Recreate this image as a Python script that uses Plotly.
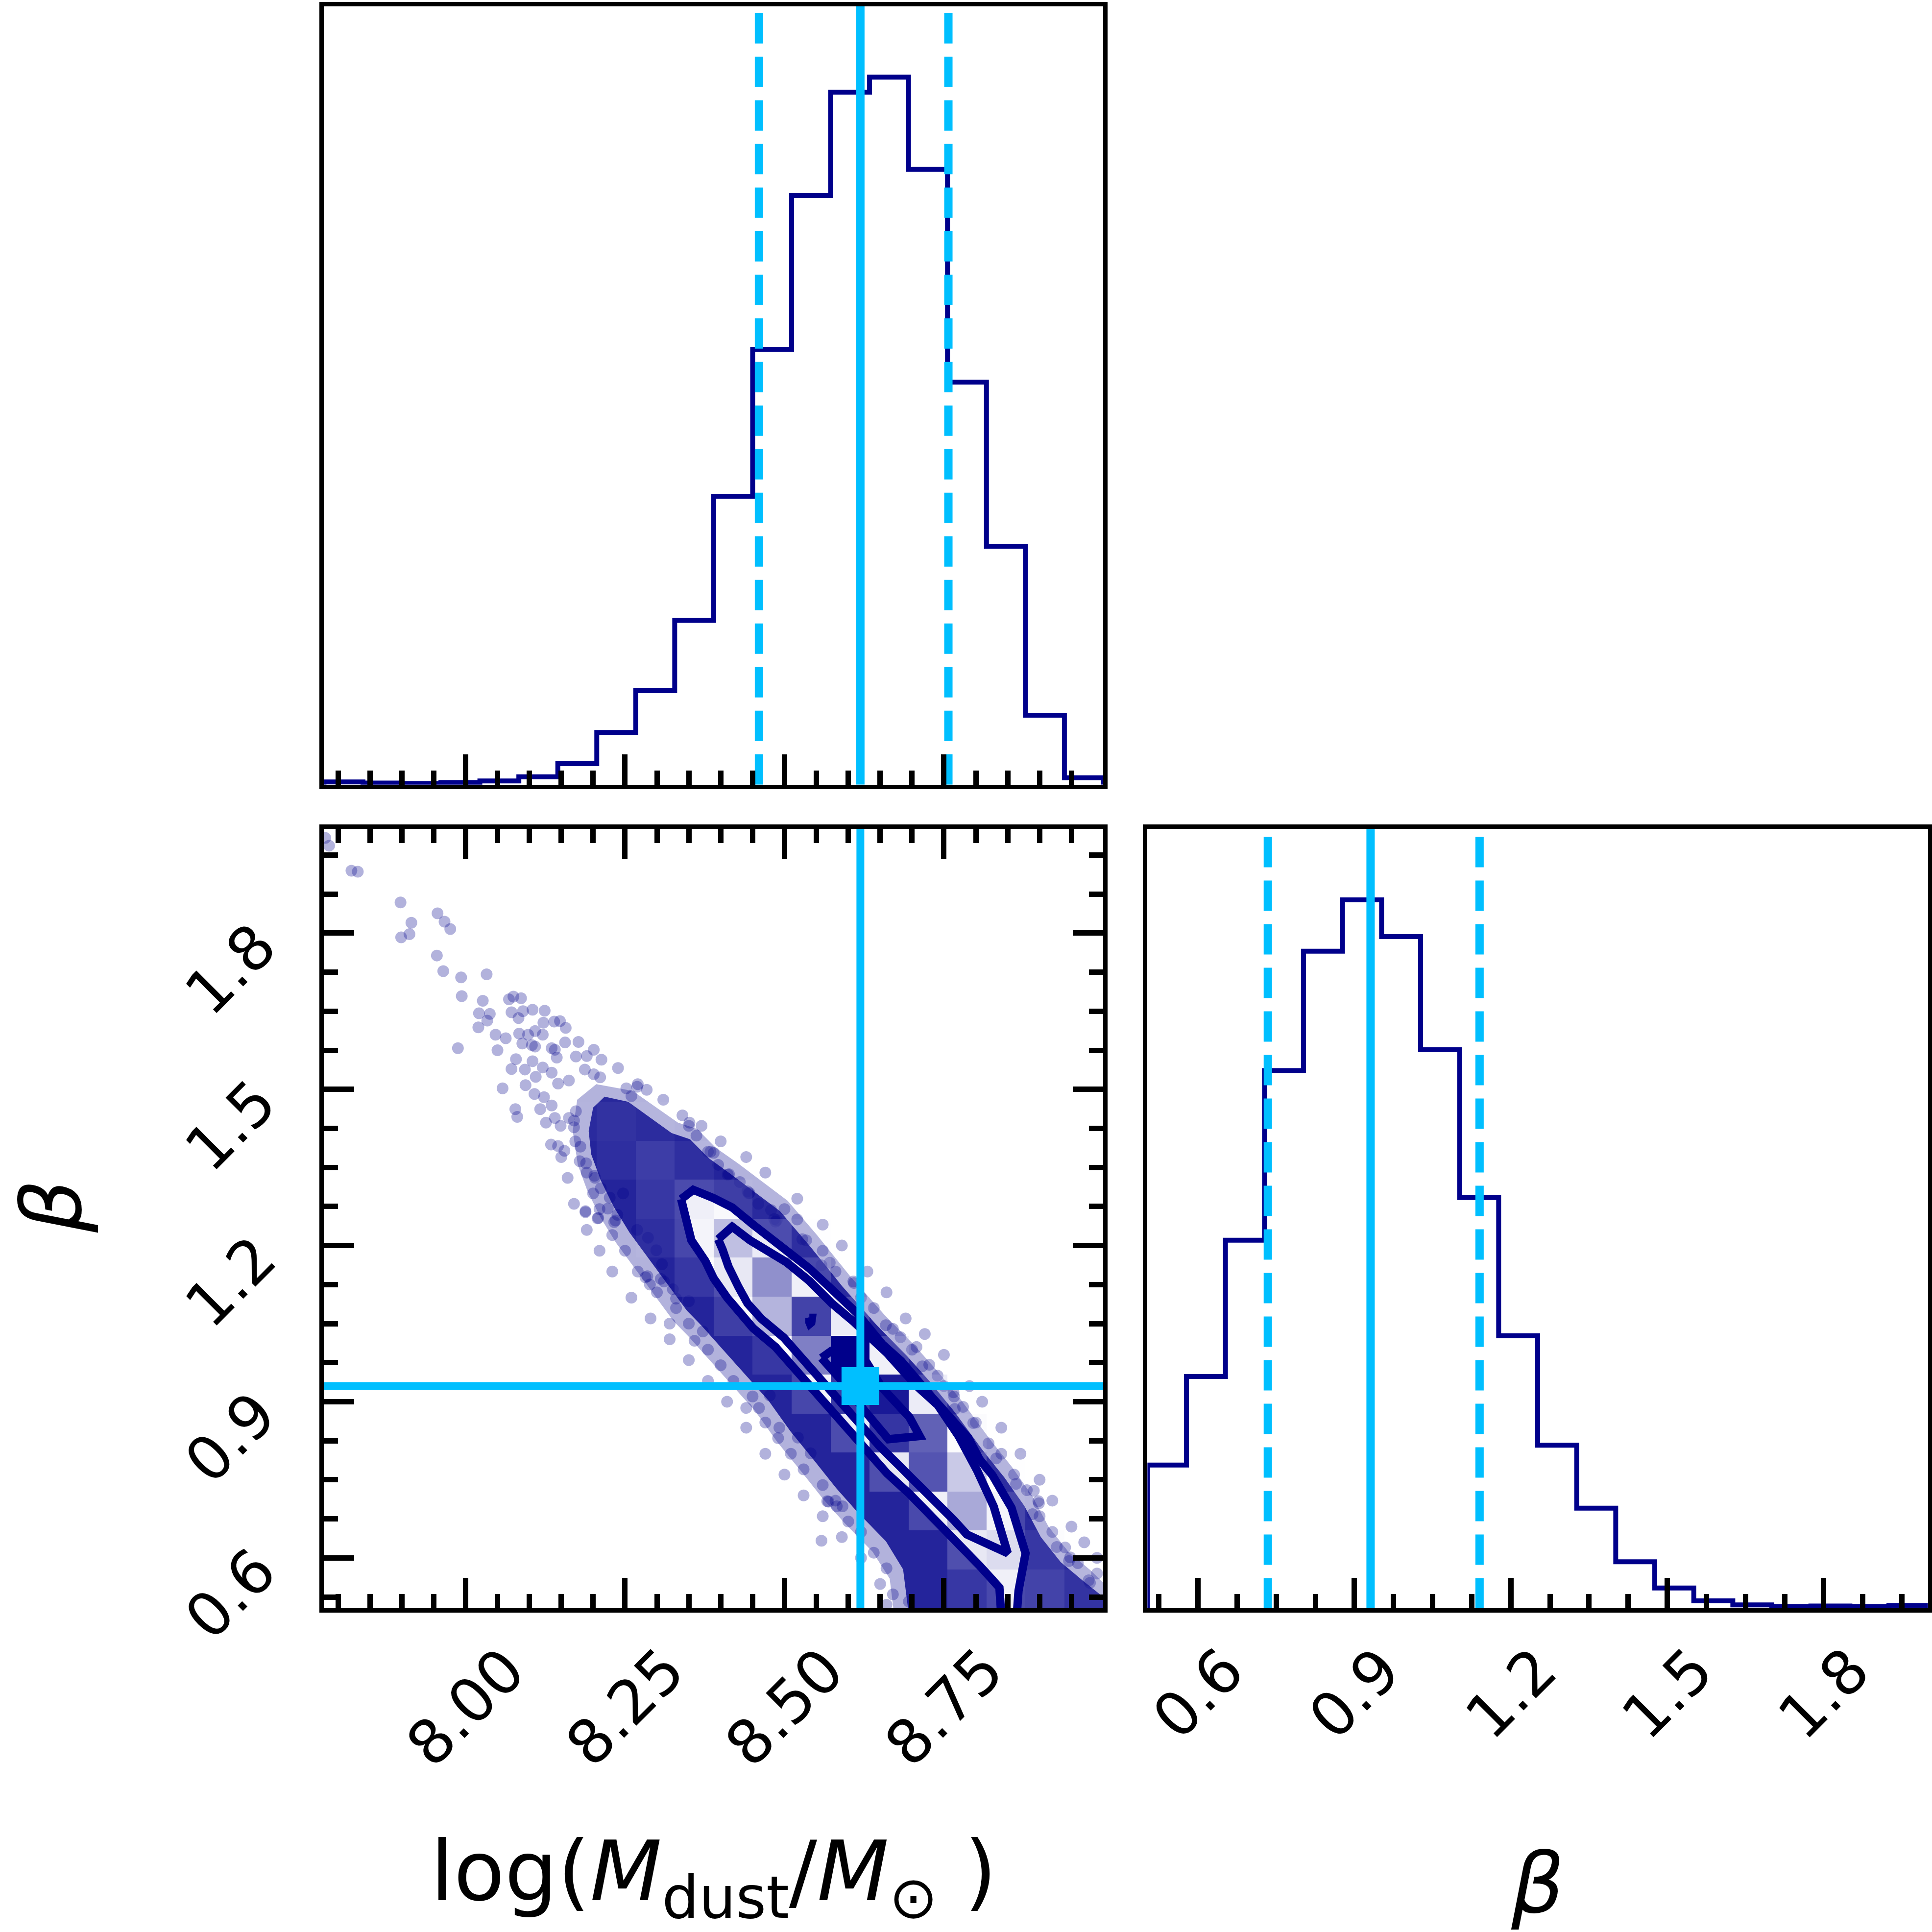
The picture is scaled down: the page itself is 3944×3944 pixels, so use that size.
import numpy as np
import plotly.graph_objects as go

# sampled ranges of the two parameters
mdust_range = [7.778, 9.0]
beta_range = [0.503, 2.0]

# 1D marginal histograms, 20 bins over the ranges above
mdust_counts = [5, 3, 2, 4, 7, 15, 40, 100, 180, 315, 553, 835, 1130, 1328, 1357, 1180, 772, 457, 133, 13]
beta_counts = [246, 398, 632, 923, 1128, 1216, 1153, 959, 705, 468, 280, 172, 80, 35, 13, 6, 3, 4, 3, 5]

# 16th, 50th, 84th percentiles and the truth values
mdust_quantiles = [8.460, 8.619, 8.757]
beta_quantiles = [0.734, 0.931, 1.140]
truth_mdust = 8.619
truth_beta = 0.930

mdust_ticks = [8.00, 8.25, 8.50, 8.75]
beta_ticks = [0.6, 0.9, 1.2, 1.5, 1.8]

# 2D histogram in % of the peak bin (rows: beta bins low->high, cols: Mdust bins)
density_2d = [
    [0, 0, 0, 0, 0, 0, 0, 0, 0, 0, 0, 0, 0, 0, 0, 0, 10, 24, 18, 8],
    [0, 0, 0, 0, 0, 0, 0, 0, 0, 0, 0, 0, 0, 0, 0, 0, 30, 37, 10, 2],
    [0, 0, 0, 0, 0, 0, 0, 0, 0, 0, 0, 0, 0, 0, 0, 24, 58, 21, 3, 0],
    [0, 0, 0, 0, 0, 0, 0, 0, 0, 0, 0, 0, 0, 0, 30, 82, 46, 5, 0, 0],
    [0, 0, 0, 0, 0, 0, 0, 0, 0, 0, 0, 0, 0, 27, 89, 79, 12, 0, 0, 0],
    [0, 0, 0, 0, 0, 0, 0, 0, 0, 0, 0, 0, 21, 88, 95, 27, 2, 0, 0, 0],
    [0, 0, 0, 0, 0, 0, 0, 0, 0, 0, 0, 10, 71, 100, 24, 2, 0, 0, 0, 0],
    [0, 0, 0, 0, 0, 0, 0, 0, 0, 0, 15, 54, 86, 27, 0, 0, 0, 0, 0, 0],
    [0, 0, 0, 0, 0, 0, 0, 0, 0, 10, 30, 66, 24, 3, 0, 0, 0, 0, 0, 0],
    [0, 0, 0, 0, 0, 0, 0, 0, 6, 21, 50, 27, 5, 0, 0, 0, 0, 0, 0, 0],
    [0, 0, 0, 0, 0, 0, 0, 0, 10, 25, 15, 3, 0, 0, 0, 0, 0, 0, 0, 0],
    [0, 0, 0, 0, 0, 0, 0, 5, 14, 6, 0, 0, 0, 0, 0, 0, 0, 0, 0, 0],
    [0, 0, 0, 0, 0, 0, 3, 7, 4, 0, 0, 0, 0, 0, 0, 0, 0, 0, 0, 0],
    [0, 0, 0, 0, 0, 0, 2, 2, 0, 0, 0, 0, 0, 0, 0, 0, 0, 0, 0, 0],
    [0] * 20,
    [0] * 20,
    [0] * 20,
    [0] * 20,
    [0] * 20,
    [0] * 20,
]

# contour levels (outer -> inner), traced as paths
contour_outer = [
    (8.338, 1.289), (8.357, 1.307), (8.389, 1.291), (8.418, 1.273), (8.451, 1.240),
    (8.477, 1.216), (8.539, 1.156), (8.574, 1.116), (8.613, 1.071), (8.653, 1.011),
    (8.683, 0.978), (8.731, 0.909), (8.762, 0.867), (8.788, 0.831), (8.806, 0.789),
    (8.826, 0.759), (8.856, 0.696), (8.878, 0.609), (8.867, 0.537), (8.863, 0.470),
    (8.841, 0.470), (8.837, 0.543), (8.806, 0.585), (8.773, 0.627), (8.753, 0.654),
    (8.718, 0.696), (8.696, 0.723), (8.661, 0.762), (8.635, 0.798), (8.609, 0.834),
    (8.574, 0.882), (8.543, 0.924), (8.517, 0.960), (8.486, 1.005), (8.451, 1.041),
    (8.429, 1.071), (8.410, 1.100), (8.389, 1.137), (8.376, 1.170), (8.354, 1.210),
    (8.345, 1.260), (8.338, 1.289),
]
contour_mid = [
    (8.396, 1.212), (8.418, 1.236), (8.446, 1.210), (8.477, 1.189), (8.503, 1.168),
    (8.539, 1.132), (8.574, 1.089), (8.609, 1.053), (8.631, 1.029), (8.661, 0.993),
    (8.683, 0.963), (8.710, 0.927), (8.740, 0.894), (8.773, 0.834), (8.802, 0.768),
    (8.828, 0.699), (8.850, 0.609), (8.786, 0.645), (8.766, 0.672), (8.731, 0.714),
    (8.709, 0.741), (8.674, 0.780), (8.648, 0.816), (8.622, 0.852), (8.587, 0.900),
    (8.556, 0.942), (8.530, 0.978), (8.499, 1.023), (8.464, 1.059), (8.442, 1.089),
    (8.428, 1.120), (8.412, 1.160), (8.403, 1.192), (8.396, 1.212),
]
contour_inner = [
    (8.558, 0.984), (8.574, 0.998), (8.600, 1.003), (8.626, 0.981), (8.653, 0.927),
    (8.696, 0.870), (8.712, 0.834), (8.663, 0.828), (8.626, 0.882), (8.591, 0.939),
    (8.558, 0.984),
]
contour_dot = [
    (8.539, 1.061), (8.543, 1.061), (8.542, 1.052), (8.540, 1.050), (8.539, 1.053),
    (8.539, 1.061),
]

# outline of the saturated part of the sample cloud, and its softer halo
cloud_core = [
    (8.200, 1.465), (8.218, 1.486), (8.255, 1.476), (8.289, 1.446), (8.323, 1.416),
    (8.352, 1.404), (8.381, 1.368), (8.415, 1.338), (8.454, 1.302), (8.493, 1.266),
    (8.539, 1.200), (8.591, 1.121), (8.644, 1.048), (8.692, 0.988), (8.727, 0.940),
    (8.767, 0.880), (8.810, 0.808), (8.845, 0.754), (8.876, 0.700), (8.902, 0.640),
    (8.933, 0.592), (8.968, 0.556), (9.010, 0.515), (9.010, 0.490), (8.695, 0.490),
    (8.686, 0.578), (8.659, 0.632), (8.616, 0.686), (8.581, 0.734), (8.546, 0.788),
    (8.510, 0.842), (8.475, 0.902), (8.440, 0.950), (8.405, 0.998), (8.370, 1.046),
    (8.347, 1.075), (8.317, 1.125), (8.287, 1.175), (8.257, 1.225), (8.232, 1.275),
    (8.212, 1.325), (8.197, 1.375), (8.193, 1.420),
]
cloud_halo = [
    (8.175, 1.480), (8.205, 1.510), (8.262, 1.497), (8.298, 1.466), (8.333, 1.436),
    (8.363, 1.424), (8.392, 1.388), (8.427, 1.358), (8.466, 1.322), (8.505, 1.286),
    (8.551, 1.220), (8.603, 1.141), (8.656, 1.068), (8.704, 1.008), (8.739, 0.960),
    (8.779, 0.900), (8.822, 0.828), (8.857, 0.774), (8.888, 0.720), (8.914, 0.660),
    (8.945, 0.612), (8.980, 0.576), (9.010, 0.540), (9.010, 0.490), (8.672, 0.490),
    (8.665, 0.560), (8.638, 0.612), (8.595, 0.666), (8.560, 0.714), (8.525, 0.768),
    (8.489, 0.822), (8.454, 0.882), (8.419, 0.930), (8.384, 0.978), (8.349, 1.026),
    (8.326, 1.055), (8.296, 1.105), (8.266, 1.155), (8.236, 1.205), (8.211, 1.255),
    (8.191, 1.305), (8.176, 1.355), (8.168, 1.420),
]

# individual samples outside the saturated cloud
samples = [
    (7.780, 1.983), (7.786, 1.968), (7.821, 1.920), (7.831, 1.918), (7.898, 1.859),
    (7.899, 1.792), (7.912, 1.798), (7.915, 1.820), (7.956, 1.838), (7.967, 1.822),
    (7.976, 1.808), (7.955, 1.757), (7.965, 1.727), (7.993, 1.715), (7.994, 1.679),
    (8.033, 1.721), (8.027, 1.670), (8.021, 1.646), (8.020, 1.619), (8.034, 1.632),
    (8.038, 1.645), (8.047, 1.605), (8.050, 1.575), (7.988, 1.579), (8.063, 1.598),
    (8.068, 1.673), (8.075, 1.678), (8.087, 1.675), (8.083, 1.637), (8.072, 1.648),
    (8.090, 1.650), (8.105, 1.653), (8.124, 1.651), (8.122, 1.628), (8.139, 1.630),
    (8.148, 1.631), (8.157, 1.618), (8.098, 1.605), (8.109, 1.612), (8.121, 1.605),
    (8.084, 1.607), (8.089, 1.588), (8.104, 1.585), (8.109, 1.582), (8.135, 1.579),
    (8.140, 1.576), (8.156, 1.590), (8.177, 1.591), (8.201, 1.576), (8.173, 1.563),
    (8.190, 1.564), (8.213, 1.557), (8.239, 1.541), (8.105, 1.554), (8.079, 1.558),
    (8.072, 1.539), (8.093, 1.538), (8.110, 1.524), (8.121, 1.542), (8.135, 1.532),
    (8.143, 1.561), (8.058, 1.502), (8.094, 1.508), (8.108, 1.491), (8.123, 1.485),
    (8.135, 1.469), (8.078, 1.462), (8.081, 1.447), (8.117, 1.462), (8.126, 1.436),
    (8.140, 1.445), (8.149, 1.430), (8.162, 1.445), (8.173, 1.458), (8.170, 1.427),
    (8.145, 1.511), (8.162, 1.517), (8.187, 1.538), (8.201, 1.529), (8.211, 1.523),
    (8.134, 1.394), (8.145, 1.391), (8.155, 1.382), (8.172, 1.400), (8.179, 1.362),
    (8.189, 1.358), (8.202, 1.334), (8.203, 1.330), (8.212, 1.310), (8.226, 1.292),
    (8.188, 1.264), (8.207, 1.252), (8.223, 1.271), (8.238, 1.259), (8.233, 1.245),
    (8.247, 1.300), (8.284, 1.499), (8.269, 1.505), (8.252, 1.502), (8.260, 1.487),
    (8.282, 1.139), (8.289, 1.125), (8.311, 1.131), (8.325, 1.116), (8.330, 1.098),
    (8.350, 1.093), (8.350, 1.430), (8.362, 1.411), (8.384, 1.380), (8.396, 1.355),
    (8.413, 1.337), (8.430, 1.322), (8.445, 1.301), (8.459, 1.280), (8.479, 1.268),
    (8.488, 1.249), (8.528, 1.212), (8.269, 1.230), (8.286, 1.215), (8.299, 1.191),
    (8.308, 1.164), (8.359, 1.017), (8.372, 1.035), (8.440, 0.888), (8.460, 0.888),
    (8.492, 0.850), (8.558, 0.633), (8.569, 0.708), (8.582, 0.699), (8.591, 0.699),
    (8.477, 0.912), (8.521, 0.831), (8.541, 0.801), (8.609, 1.128), (8.659, 1.047),
    (8.682, 1.024), (8.707, 1.005), (8.727, 0.971), (8.766, 0.910), (8.767, 0.886),
    (8.796, 0.859), (8.832, 0.791), (8.863, 0.742), (8.891, 0.729), (8.899, 0.705),
    (8.889, 0.684), (8.927, 0.621), (8.946, 0.594), (8.979, 0.552), (8.558, 1.162),
    (8.534, 1.210), (8.486, 1.246), (8.444, 1.300), (8.389, 1.378), (8.411, 1.336),
    (8.695, 0.516), (8.567, 0.709), (8.320, 1.050), (8.285, 1.141), (8.306, 1.136),
    (8.235, 1.248), (8.188, 1.266), (8.208, 1.253), (8.977, 0.557), (8.948, 0.601),
    (8.898, 0.709), (8.765, 0.918), (8.716, 0.968), (8.608, 1.131), (8.571, 1.167),
    (8.484, 1.251), (8.442, 1.304), (8.380, 1.380), (8.351, 1.436),
    (8.500, 1.270), (8.520, 1.250), (8.560, 1.190), (8.580, 1.150), (8.620, 1.100),
    (8.640, 1.080), (8.670, 1.040), (8.700, 1.000), (8.740, 0.950), (8.750, 0.930),
    (8.780, 0.890), (8.800, 0.860), (8.820, 0.820), (8.840, 0.800), (8.860, 0.760),
    (8.880, 0.730), (8.900, 0.680), (8.920, 0.650), (8.940, 0.620), (8.960, 0.590),
    (8.990, 0.570), (8.670, 0.530), (8.660, 0.580), (8.640, 0.610), (8.620, 0.650),
    (8.600, 0.670), (8.580, 0.710), (8.560, 0.740), (8.530, 0.770), (8.510, 0.800),
    (8.490, 0.830), (8.470, 0.860), (8.450, 0.910), (8.420, 0.940), (8.400, 0.970),
    (8.380, 1.000), (8.350, 1.050), (8.330, 1.080), (8.300, 1.110), (8.270, 1.150),
    (8.250, 1.190), (8.230, 1.220), (8.210, 1.270), (8.200, 1.300), (8.190, 1.340),
    (8.180, 1.390), (8.170, 1.440),
    (8.270, 1.510), (8.310, 1.480), (8.340, 1.450), (8.370, 1.430), (8.400, 1.400),
    (8.440, 1.370), (8.470, 1.340), (8.520, 1.290), (8.560, 1.240), (8.590, 1.200),
    (8.630, 1.150), (8.660, 1.110), (8.690, 1.060), (8.720, 1.030), (8.750, 0.990),
    (8.790, 0.930), (8.810, 0.900), (8.840, 0.850), (8.870, 0.800), (8.900, 0.750),
    (8.920, 0.710), (8.950, 0.660), (8.970, 0.630), (8.990, 0.600),
    (8.660, 0.510), (8.650, 0.550), (8.620, 0.600), (8.590, 0.640), (8.560, 0.680),
    (8.530, 0.720), (8.500, 0.760), (8.470, 0.800), (8.440, 0.850), (8.410, 0.900),
    (8.380, 0.940), (8.350, 0.980), (8.320, 1.020), (8.290, 1.060), (8.260, 1.100),
    (8.230, 1.150), (8.210, 1.190), (8.190, 1.230), (8.170, 1.280), (8.160, 1.330),
    (8.150, 1.370),
]

NAVY = "#00008b"
CYAN = "#00bfff"
FONT = "DejaVu Sans"

# panel domains (paper fractions)
x_left = [0.1677, 0.5711]
x_right = [0.5939, 0.9979]
y_top = [0.5939, 0.9967]
y_bottom = [0.1675, 0.5709]


def step_xy(counts, rng):
    edges = np.linspace(rng[0], rng[1], len(counts) + 1)
    xs = np.repeat(edges, 2)
    ys = np.concatenate([[0], np.repeat(counts, 2), [0]])
    return xs, ys


fig = go.Figure()

# --- top-left: Mdust marginal
mdust_top = 1.1 * max(mdust_counts)
hx, hy = step_xy(mdust_counts, mdust_range)
fig.add_trace(go.Scatter(x=hx, y=hy, mode="lines", line=dict(color=NAVY, width=10),
                         xaxis="x", yaxis="y", showlegend=False))
for q, d in zip(mdust_quantiles, ["62px,27px", "solid", "62px,27px"]):
    fig.add_trace(go.Scatter(x=[q, q], y=[0, mdust_top], mode="lines",
                             line=dict(color=CYAN, width=17, dash=d),
                             xaxis="x", yaxis="y", showlegend=False))

# --- bottom-right: beta marginal
beta_top = 1.1 * max(beta_counts)
hx, hy = step_xy(beta_counts, beta_range)
fig.add_trace(go.Scatter(x=hx, y=hy, mode="lines", line=dict(color=NAVY, width=10),
                         xaxis="x2", yaxis="y2", showlegend=False))
for q, d in zip(beta_quantiles, ["62px,27px", "solid", "62px,27px"]):
    fig.add_trace(go.Scatter(x=[q, q], y=[0, beta_top], mode="lines",
                             line=dict(color=CYAN, width=17, dash=d),
                             xaxis="x2", yaxis="y2", showlegend=False))

# --- bottom-left: samples, then white inside the outer contour
for outline, alpha in [(cloud_halo, 0.3), (cloud_core, 0.8)]:
    cx, cy = zip(*outline)
    fig.add_trace(go.Scatter(x=cx, y=cy, mode="lines", fill="toself",
                             fillcolor=f"rgba(0,0,139,{alpha})", line=dict(width=0),
                             xaxis="x3", yaxis="y3", showlegend=False))
sx, sy = zip(*samples)
fig.add_trace(go.Scatter(x=sx, y=sy, mode="markers",
                         marker=dict(size=24, color="rgba(0,0,139,0.3)", line=dict(width=0)),
                         xaxis="x3", yaxis="y3", showlegend=False))
ox, oy = zip(*contour_outer)
fig.add_trace(go.Scatter(x=ox, y=oy, mode="lines", fill="toself", fillcolor="white",
                         line=dict(width=0), xaxis="x3", yaxis="y3", showlegend=False))

# overlay: density squares, contour lines, truths
nb = len(density_2d)
mx_edges = np.linspace(mdust_range[0], mdust_range[1], nb + 1)
by_edges = np.linspace(beta_range[0], beta_range[1], nb + 1)
fig.add_trace(go.Heatmap(
    x=(mx_edges[:-1] + mx_edges[1:]) / 2, y=(by_edges[:-1] + by_edges[1:]) / 2,
    z=density_2d, zmin=0, zmax=100, showscale=False, hoverinfo="skip",
    colorscale=[[0, "rgba(255,255,255,0)"], [1, "rgba(0,0,139,1)"]],
    xaxis="x4", yaxis="y4"))
for path in [contour_outer, contour_mid, contour_inner, contour_dot]:
    px_, py_ = zip(*path)
    fig.add_trace(go.Scatter(x=px_, y=py_, mode="lines",
                             line=dict(color=NAVY, width=17),
                             xaxis="x4", yaxis="y4", showlegend=False))
fig.add_trace(go.Scatter(x=[truth_mdust, truth_mdust], y=[beta_range[0] - 0.1, beta_range[1] + 0.1],
                         mode="lines", line=dict(color=CYAN, width=16),
                         xaxis="x4", yaxis="y4", showlegend=False))
fig.add_trace(go.Scatter(x=[mdust_range[0] - 0.1, mdust_range[1] + 0.1], y=[truth_beta, truth_beta],
                         mode="lines", line=dict(color=CYAN, width=16),
                         xaxis="x4", yaxis="y4", showlegend=False))
fig.add_trace(go.Scatter(x=[truth_mdust], y=[truth_beta], mode="markers",
                         marker=dict(symbol="square", size=77, color=CYAN, line=dict(width=0)),
                         xaxis="x4", yaxis="y4", showlegend=False))

frame = dict(showline=True, linewidth=9, linecolor="black", showgrid=False,
             zeroline=False, showticklabels=False)
major = dict(ticks="inside", ticklen=62, tickwidth=11, tickcolor="black")


def minor(step, start):
    return dict(ticks="inside", ticklen=29, tickwidth=11, tickcolor="black",
                dtick=step, tick0=start, showgrid=False)


fig.update_layout(
    width=3944, height=3944,
    margin=dict(l=0, r=0, t=0, b=0),
    paper_bgcolor="white", plot_bgcolor="white",
    showlegend=False,
    xaxis=dict(domain=x_left, anchor="y", range=mdust_range, mirror=True,
               dtick=0.25, tick0=8.0, minor=minor(0.05, 8.0), **frame, **major),
    yaxis=dict(domain=y_top, anchor="x", range=[0, mdust_top], mirror=True,
               ticks="", **frame),
    xaxis2=dict(domain=x_right, anchor="y2", range=beta_range, mirror=True,
                dtick=0.3, tick0=0.6, minor=minor(0.075, 0.6), **frame, **major),
    yaxis2=dict(domain=y_bottom, anchor="x2", range=[0, beta_top], mirror=True,
                ticks="", **frame),
    xaxis3=dict(domain=x_left, anchor="y3", range=mdust_range, mirror="allticks",
                dtick=0.25, tick0=8.0, minor=minor(0.05, 8.0), **frame, **major),
    yaxis3=dict(domain=y_bottom, anchor="x3", range=beta_range, mirror="allticks",
                dtick=0.3, tick0=0.6, minor=minor(0.075, 0.6), **frame, **major),
    xaxis4=dict(overlaying="x3", anchor="y4", range=mdust_range, visible=False),
    yaxis4=dict(overlaying="y3", anchor="x4", range=beta_range, visible=False),
)

tick_font = dict(family=FONT, size=124, color="black")
annotations = []
for v in mdust_ticks:
    annotations.append(dict(x=v, xref="x3", y=y_bottom[0], yref="paper", text=f"{v:.2f}",
                            textangle=-45, xanchor="center", yanchor="top", yshift=-50,
                            showarrow=False, font=tick_font))
for v in beta_ticks:
    annotations.append(dict(x=v, xref="x2", y=y_bottom[0], yref="paper", text=f"{v:.1f}",
                            textangle=-45, xanchor="center", yanchor="top", yshift=-50,
                            showarrow=False, font=tick_font))
    annotations.append(dict(x=x_left[0], xref="paper", y=v, yref="y3", text=f"{v:.1f}",
                            textangle=-45, xanchor="right", yanchor="middle",
                            xshift=-68, yshift=-74, showarrow=False, font=tick_font))

title_font = dict(family=FONT, size=170, color="black")
annotations.append(dict(x=sum(x_left) / 2, xref="paper", y=0.0570, yref="paper",
                        text="log(<i>M</i><sub>dust</sub>/<i>M</i><sub>⊙</sub> )",
                        xanchor="center", yanchor="top", showarrow=False, font=title_font))
annotations.append(dict(x=sum(x_right) / 2, xref="paper", y=0.0507, yref="paper",
                        text="<i>β</i>", xanchor="center", yanchor="top",
                        showarrow=False, font=title_font))
annotations.append(dict(x=0.0269, xref="paper", y=0.3757, yref="paper",
                        text="<i>β</i>", textangle=-90, xanchor="center", yanchor="middle",
                        showarrow=False, font=title_font))
fig.update_layout(annotations=annotations)

# the page default body margin would shift the 3944 px figure; drop it
fig.write_html("out.html", config={"displayModeBar": False},
               post_script="document.body.style.margin='0';document.body.style.overflow='hidden';")
